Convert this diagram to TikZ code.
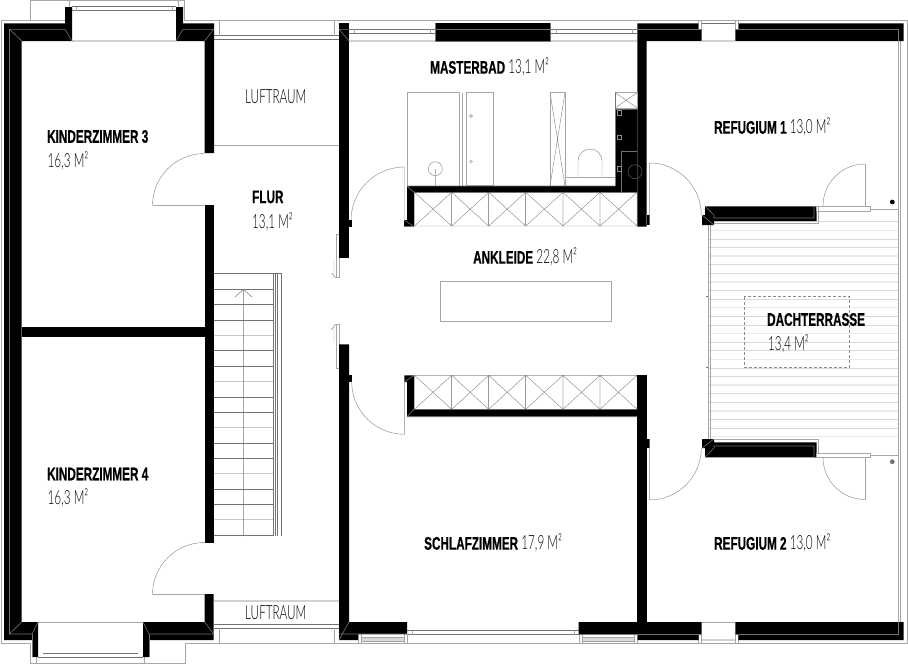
\documentclass[tikz,border=0pt]{standalone}
\usepackage{fontspec}
\newfontfamily\hb[FakeStretch=0.645,FakeBold=0.5]{Liberation Sans Bold}
\newfontfamily\lt[FakeStretch=0.6]{Lato Light}
\tikzset{
  wall/.style={fill=black,draw=none},
  gl/.style={draw=black!55,line width=0.6pt},
  ll/.style={draw=black!35,line width=0.6pt},
  tl/.style={draw=black!18,line width=1.4pt},
  thin gray/.style={draw=black!45,line width=0.45pt},
  name bold/.style={anchor=west,inner sep=0pt,font=\hb\fontsize{18.2}{18.2}\selectfont},
  name light/.style={anchor=west,inner sep=0pt,font=\lt\fontsize{19.5}{19.5}\selectfont},
}
\newcommand{\AREA}[1]{{\lt\fontsize{19.5}{19.5}\selectfont #1}}
\begin{document}
\begin{tikzpicture}[x=1pt,y=-1pt]
\useasboundingbox (0,0) rectangle (908,664);
% --- terrace planks
\foreach \k in {0,...,25}{
  \draw[draw=black!15,line width=0.6pt] (708.5,221.7+8.6*\k) -- (898.5,221.7+8.6*\k);
}
\foreach \k in {1,4,7,10,13,16,19,22,25}{
  \draw[draw=black!8,line width=1.3pt] (708.5,221.7+8.6*\k) -- (898.5,221.7+8.6*\k);
}
\draw[ll] (708,225) -- (708,440) (710,225) -- (710,440);
\draw[gl] (706,296.7) -- (708,296.7) (706,367.3) -- (708,367.3);
\draw[thin gray,dashed,dash pattern=on 3pt off 2pt] (744.3,296.7) rectangle (849.3,367.3);
% --- outer contour
\draw[ll] (65,20.7) -- (1,20.7) -- (1,643.3) -- (30,643.3) -- (30,663.3) -- (185,663.3) -- (185,643.3) -- (907.7,643.3) -- (907.7,20.7) -- (184,20.7) -- (184,0.5) -- (30,0.5) -- (30,20.7);
\draw[ll] (69.3,0.5) -- (69.3,6.5) (178,0.5) -- (178,6.5);
\draw[gl] (72,6.5) -- (176,6.5) (72,10.7) -- (176,10.7);
\draw[ll] (76,6.5) -- (76,10.7) (172,6.5) -- (172,10.7);
\draw[tl] (72,41) -- (176,41);
\draw[ll] (36,657.3) -- (36,663.3) (144.6,657.3) -- (144.6,663.3);
\draw[gl] (38,657.3) -- (143,657.3) (43,653.7) -- (138,653.7);
\draw[ll] (38,622) -- (143,622);
% top + bottom windows of the void
\draw[gl] (214,35.5) -- (339,35.5) (214,39) -- (339,39);
\draw[ll] (219.3,20.7) -- (219.3,35.5) (334.7,20.7) -- (334.7,35.5);
\draw[gl] (214,624.5) -- (339,624.5) (214,628.3) -- (339,628.3);
\draw[ll] (219.3,628.3) -- (219.3,643.3) (334.7,628.3) -- (334.7,643.3);
\draw[ll] (214,145.7) -- (339,145.7);
\draw[tl] (214,601) -- (339,601);
% top windows
\draw[gl] (349,29.3) -- (435,29.3) (349,33.3) -- (435,33.3) (550.7,29.3) -- (637,29.3) (550.7,33.3) -- (637,33.3);
\draw[ll] (354.5,29.3) -- (354.5,33.3) (430,29.3) -- (430,33.3) (556.7,29.3) -- (556.7,33.3) (632,29.3) -- (632,33.3);
\draw[tl] (349,41) -- (435,41) (550.7,41) -- (637,41);
\draw[ll] (698.3,20.7) -- (698.3,29.3) (701.7,20.7) -- (701.7,29.3) (735.3,20.7) -- (735.3,29.3) (738.7,20.7) -- (738.7,29.3);
\draw[gl] (701.7,23.3) -- (735.3,23.3);
\draw[tl] (701.7,41) -- (735.3,41);
% bottom windows
\draw[gl] (407,630.7) -- (578.7,630.7) (407,634.7) -- (578.7,634.7);
\draw[ll] (412,630.7) -- (412,634.7) (574,630.7) -- (574,634.7);
\draw[ll] (358.5,634) -- (358.5,643.3) (361.5,634) -- (361.5,643.3) (404,634) -- (404,643.3) (407,634) -- (407,643.3);
\draw[ll,fill=black!15] (361.5,637.5) rectangle (404,641.5);
\draw[ll,fill=black!15] (582.7,637.5) rectangle (634,641.5);
\draw[ll] (579,634) -- (579,643.3) (582.7,634) -- (582.7,643.3) (634,634) -- (634,643.3) (637.7,634) -- (637.7,643.3) (698.7,634) -- (698.7,643.3) (701.7,634) -- (701.7,643.3) (735.3,634) -- (735.3,643.3) (738.3,634) -- (738.3,643.3);
\draw[ll] (701.7,622) -- (735.3,622);
\draw[tl] (701.7,640) -- (735.3,640);
% right edge
\draw[ll] (898.7,41) -- (898.7,622) (900.7,41) -- (900.7,622);
% --- stairs
\foreach \k in {0,...,16}{
  \draw[gl,line width=0.5pt] (213.7,289.3+15.35*\k) -- (273.3,289.3+15.35*\k);
}
\foreach \k in {3,6,9,12,15}{ \draw[draw=black!22,line width=1.2pt] (213.7,289.3+15.35*\k) -- (273.3,289.3+15.35*\k); }
\draw[gl,line width=0.5pt] (213.7,273.3) -- (281.5,273.3);
\draw[gl,line width=0.5pt] (273.3,273.3) -- (273.3,536) (275,273.3) -- (275,536) (277.5,273.3) -- (277.5,536) (281.5,273.3) -- (281.5,536);
\draw[gl,line width=0.5pt] (243.3,536) -- (243.3,289.3) (235,297) -- (243.3,289.3) -- (252,297);
% --- island
\draw[ll] (440,281) rectangle (611,321);
% --- sliding doors
\draw[ll] (336.7,234) rectangle (339.7,277.7) (336.7,324) rectangle (339.7,368);
\draw[thin gray] (334,260) -- (334,277.7) (331.5,273) -- (336,277.7) (334,324) -- (334,342) (331,330) -- (336,324);
% --- bathroom fixtures
\draw[ll,line width=0.8pt] (407,92.6) rectangle (459.5,186) (466,92.6) rectangle (493,185);
\draw[ll] (462.5,92.6) -- (462.5,186);
\draw[thin gray] (471,116) circle (1.5pt) (471,161.6) circle (1.5pt);
\draw[thin gray] (435.3,168.7) circle (7pt);
\draw[draw=black!30,line width=1.3pt] (435.3,169) -- (435.3,186);
\draw[ll] (550,92.6) rectangle (565,186);
\draw[thin gray] (550,92.6) -- (565,186) (565,92.6) -- (550,186);
\draw[ll] (565,177) -- (615,177);
\draw[thin gray] (578,177) -- (578,161) arc[start angle=180,end angle=0,radius=12pt] -- (602,177);
% --- wardrobes
\foreach \y/\yy in {192.3/226,375.3/409.3}{
  \foreach \a/\b in {414.5/451.7,451.7/488.7,488.7/525.7,525.7/563,563/600,600/637}{
    \draw[thin gray] (\a,\y) rectangle (\b,\yy) (\a,\y) -- (\b,\yy) (\a,\yy) -- (\b,\y);
  }
}
% --- walls
\fill[wall] (4,23.3) -- (65,23.3) -- (65,7) -- (72,7) -- (72,41) -- (21.7,41) -- (21.7,622) -- (38,622) -- (38,657) -- (32,657) -- (32,640) -- (4,640) -- cycle;
\fill[wall] (176,41) -- (176,7) -- (183,7) -- (183,23.3) -- (214,23.3) -- (214,153) -- (204.5,153) -- (204.5,41) -- cycle;
\fill[wall] (204.5,205) rectangle (213.7,543);
\fill[wall] (21.7,326.5) rectangle (204.5,336.5);
\fill[wall] (204.5,594) -- (213.7,594) -- (213.7,640) -- (149,640) -- (149,657) -- (143,657) -- (143,622) -- (204.5,622) -- cycle;
\fill[wall] (339,23.3) rectangle (349,257.7);
\fill[wall] (339,344.3) -- (349,344.3) -- (349,622) -- (407,622) -- (407,634) -- (358,634) -- (358,640) -- (339,640) -- cycle;
\fill[wall] (435.3,23.3) rectangle (550.6,41);
\fill[wall] (637.3,23.3) -- (698.3,23.3) -- (698.3,29.3) -- (701.7,29.3) -- (701.7,41) -- (646.7,41) -- (646.7,226.5) -- (637.3,226.5) -- cycle;
\fill[wall] (735.3,29.3) -- (738.7,29.3) -- (738.7,23.3) -- (903.5,23.3) -- (903.5,41) -- (735.3,41) -- cycle;
\fill[wall] (637.3,375.3) rectangle (646.7,622);
\fill[wall] (578.7,622) -- (701.7,622) -- (701.7,634) -- (698.7,634) -- (698.7,640) -- (637.7,640) -- (637.7,634) -- (578.7,634) -- cycle;
\fill[wall] (735.3,622) -- (903.7,622) -- (903.7,640) -- (738.3,640) -- (738.3,634) -- (735.3,634) -- cycle;
% upper wardrobe walls + shaft
\fill[wall] (404,220) -- (407,220) -- (407,186) -- (615,186) -- (615,109.3) -- (637.3,109.3) -- (637.3,192.3) -- (414,192.3) -- (414,226.5) -- (404,226.5) -- cycle;
\fill[wall] (404.3,375.3) -- (414,375.3) -- (414,409.3) -- (637.3,409.3) -- (637.3,416.7) -- (407,416.7) -- (407,382) -- (404.3,382) -- cycle;
% door tabs
\fill[wall] (349,220) rectangle (352,226.5);
\fill[wall] (349,375) rectangle (352,382);
\fill[wall] (646.7,215) rectangle (649.5,225);
\fill[wall] (646.7,439) rectangle (649.5,448);
% terrace walls
\fill[wall] (705,206.3) -- (816.7,206.3) -- (816.7,221) -- (714,221) -- (714,225) -- (702,225) -- (702,215) -- (705,215) -- cycle;
\fill[wall] (705,457.3) -- (816.7,457.3) -- (816.7,442.3) -- (714,442.3) -- (714,439) -- (702,439) -- (702,448) -- (705,448) -- cycle;
% --- grey centre lines in the walls
\draw[gl] (21.7,41) -- (9.5,29.3) -- (65,29.3) -- (72,41);
\draw[gl] (9.5,29.3) -- (9.5,634) -- (21.7,622) (9.5,634) -- (32,634) -- (38,622);
\draw[gl] (176,41) -- (183,29.3) -- (213.7,29.3) -- (204.5,41);
\draw[gl] (143,622) -- (149,634) -- (213.7,634) -- (204.5,622);
\draw[gl] (32,657) -- (32,634) (149,657) -- (149,634);
\draw[gl] (349,41) -- (339,29.3) -- (349,29.3);
\draw[gl] (339,640) -- (349,622) (339,634) -- (407,634);
\draw[gl] (435.3,29.3) -- (550.6,29.3) (435.3,41) -- (550.6,41) (435.3,23.3) -- (435.3,41) (550.6,23.3) -- (550.6,41);
\draw[gl] (637.3,29.3) -- (701.7,29.3);
\draw[gl] (578.7,634) -- (701.7,634) (735.3,634) -- (898,634) -- (898,622);
\draw[gl] (735.3,29.3) -- (898.7,29.3) -- (898.7,41);
\draw[ll] (1,20.7) -- (65,20.7);
\draw[ll] (214,20.7) -- (907.7,20.7);
% terrace wall detail
\draw[gl] (714,225) -- (702,215) (705,206.3) -- (714,215) -- (714,218) -- (814,218) -- (814,206.3) -- (816.7,206.3);
\draw[gl] (714,439) -- (702,448) (705,457.3) -- (714,448) -- (714,446) -- (814,446) -- (814,457.3) -- (816.7,457.3);
\draw[ll] (714,223) -- (818.3,223) -- (818.3,206.3) (714,439.3) -- (818.3,439.3) -- (818.3,453);
% shaft details
\draw[ll,fill=white] (615,92.6) rectangle (637.3,108);
\draw[thin gray] (615,92.6) -- (637.3,108) (615,108) -- (637.3,92.6);
\draw[gl] (621,192) -- (621,151.7) -- (637.3,151.7);
\draw[gl] (615,192.3) -- (637.3,192.3);
\draw[draw=black!45,line width=0.5pt] (617,110.5) rectangle (621,115) (617,135) rectangle (621,139) (617,166) rectangle (621,171);
\draw[draw=black!60,line width=0.45pt] (635,171.7) circle (7pt);
\draw[gl] (615,92.6) -- (615,186);
\draw[gl] (407,186) -- (615,186) (414,192.3) -- (637,192.3) (407,186) -- (414,192.3);
\draw[gl] (407,416.7) -- (637.3,416.7) (414,409.3) -- (637.3,409.3) (407,416.7) -- (414,409.3) (404.3,382) -- (414,375.3);
\draw[gl] (404,226.5) -- (414,226.5) (404,220) -- (414,226.5);
% --- doors
\draw[ll] (204,205) -- (152.5,205) (204,594) -- (152.5,594);
\draw[thin gray] (204.5,153.5) arc[start angle=90,end angle=180,radius=52pt];
\draw[thin gray] (204.5,542.5) arc[start angle=90,end angle=180,radius=52pt];
\draw[thin gray] (404.5,220.5) -- (404.5,167) arc[start angle=90,end angle=180,radius=53.5pt];
\draw[thin gray] (351.7,381.7) arc[start angle=180,end angle=270,radius=52.6pt] -- (404.3,382);
\draw[thin gray] (649.3,225) -- (649.3,163) arc[start angle=90,end angle=0,radius=52pt];
\draw[thin gray] (649.3,439) -- (649.3,500) arc[start angle=-90,end angle=0,radius=52pt];
\draw[ll] (816.7,206.3) rectangle (870.7,211) (816.7,453) rectangle (870.7,457.5);
\draw[ll] (870.7,209) -- (898.7,209) (870.7,455) -- (898.7,455);
\draw[ll] (865,206.3) -- (865,164);
\draw[thin gray] (865,164) arc[start angle=90,end angle=180,radius=42pt];
\draw[ll] (865,457.5) -- (865,499.5);
\draw[thin gray] (823,457.5) arc[start angle=180,end angle=270,radius=42pt];
\fill[black] (892.3,202) circle (2.4pt);
\fill[black!55] (892.3,461.7) circle (2.4pt);
% --- labels
\node[name bold] (kz3) at (47,136.5) {KINDERZIMMER 3};
\node[name light] (kz3a) at (47.5,161) {16,3 M²};
\node[name light] (luft1) at (245,97) {LUFTRAUM};
\node[name bold] (flur) at (252,197) {FLUR};
\node[name light] (flura) at (252,221.5) {13,1 M²};
\node[name bold] (bad) at (430,67) {MASTERBAD \AREA{13,1 M²}};
\node[name bold] (ank) at (473,257) {ANKLEIDE \AREA{22,8 M²}};
\node[name bold] (ref1) at (714,127) {REFUGIUM 1 \AREA{13,0 M²}};
\node[name bold] (dach) at (767,319.5) {DACHTERRASSE};
\node[name light] (dacha) at (768,343.5) {13,4 M²};
\node[name bold] (kz4) at (47,474) {KINDERZIMMER 4};
\node[name light] (kz4a) at (47.5,497.5) {16,3 M²};
\node[name bold] (sch) at (424,543) {SCHLAFZIMMER \AREA{17,9 M²}};
\node[name bold] (ref2) at (714,543) {REFUGIUM 2 \AREA{13,0 M²}};
\node[name light] (luft2) at (245,613) {LUFTRAUM};
\end{tikzpicture}
\end{document}
